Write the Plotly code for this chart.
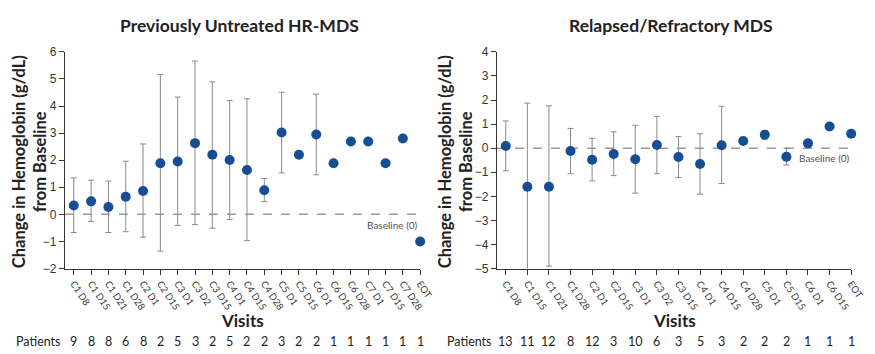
import plotly.graph_objects as go

# ---- Previously untreated HR-MDS ----
visits_a = ["C1 D8", "C1 D15", "C1 D21", "C1 D28", "C2 D1", "C2 D15", "C3 D1", "C3 D2",
            "C3 D15", "C4 D1", "C4 D15", "C4 D28", "C5 D1", "C5 D15", "C6 D1", "C6 D15",
            "C6 D28", "C7 D1", "C7 D15", "C7 D28", "EOT"]
mean_a = [0.33, 0.48, 0.27, 0.65, 0.86, 1.89, 1.95, 2.63, 2.20, 2.01, 1.64, 0.89, 3.02,
          2.20, 2.95, 1.89, 2.69, 2.69, 1.89, 2.80, -1.00]
upper_a = [1.35, 1.26, 1.23, 1.96, 2.60, 5.16, 4.33, 5.66, 4.89, 4.20, 4.27, 1.32, 4.51,
           2.32, 4.44, None, None, None, None, None, None]
lower_a = [-0.67, -0.26, -0.67, -0.64, -0.84, -1.36, -0.41, -0.38, -0.51, -0.19, -0.97, 0.47,
           1.53, 2.08, 1.46, None, None, None, None, None, None]
patients_a = [9, 8, 8, 6, 8, 2, 5, 3, 2, 5, 2, 2, 3, 2, 2, 1, 1, 1, 1, 1, 1]

# ---- Relapsed/refractory MDS ----
visits_b = ["C1 D8", "C1 D15", "C1 D21", "C1 D28", "C2 D1", "C2 D15", "C3 D1", "C3 D2",
            "C3 D15", "C4 D1", "C4 D15", "C4 D28", "C5 D1", "C5 D15", "C6 D1", "C6 D15", "EOT"]
mean_b = [0.09, -1.60, -1.60, -0.12, -0.48, -0.24, -0.46, 0.13, -0.37, -0.66, 0.12, 0.30,
          0.56, -0.36, 0.20, 0.90, 0.60]
upper_b = [1.13, 1.87, 1.76, 0.82, 0.41, 0.68, 0.95, 1.32, 0.48, 0.60, 1.74, 0.38, 0.73,
           0.00, None, None, None]
lower_b = [-0.94, -5.05, -4.90, -1.06, -1.36, -1.14, -1.87, -1.06, -1.22, -1.91, -1.47, 0.22,
           0.37, -0.70, None, None, None]
patients_b = [13, 11, 12, 8, 12, 3, 10, 6, 3, 5, 3, 2, 2, 2, 1, 1, 1]

BLUE = "#154e94"
ERR = "#8a8a8a"
TXT = "#222222"
FONT = "Lato"

W, H = 875, 354


def err(mean, hi, lo):
    plus = [0 if h is None else h - m for m, h in zip(mean, hi)]
    minus = [0 if l is None else m - l for m, l in zip(mean, lo)]
    return plus, minus


fig = go.Figure()

for mean, hi, lo, xa, ya in [(mean_a, upper_a, lower_a, "x", "y"),
                             (mean_b, upper_b, lower_b, "x2", "y2")]:
    plus, minus = err(mean, hi, lo)
    fig.add_trace(go.Scatter(
        x=list(range(len(mean))), y=mean, mode="markers", xaxis=xa, yaxis=ya,
        marker=dict(color=BLUE, size=10),
        error_y=dict(type="data", symmetric=False, array=plus, arrayminus=minus,
                     color=ERR, thickness=1, width=3),
        cliponaxis=False, showlegend=False,
    ))

dom_a = [66 / W, 427 / W]
dom_b = [505 / W, 865 / W]
ydom = [(H - 272.3) / H, (H - 46.7) / H]

axis_common = dict(showline=True, linecolor="#333333", linewidth=1, ticks="outside",
                   ticklen=5, tickcolor="#333333", showgrid=False, zeroline=False,
                   tickfont=dict(family="Liberation Sans", size=12, color="#333333"))

xcommon = dict(axis_common, tickangle=56, tickfont=dict(family=FONT, size=9.5, color="#333333"))

fig.update_layout(
    width=W, height=H, margin=dict(l=0, r=0, t=0, b=0),
    paper_bgcolor="white", plot_bgcolor="white",
    xaxis=dict(xcommon, domain=dom_a, anchor="y", range=[-0.51, len(visits_a) - 1],
               tickvals=list(range(len(visits_a))), ticktext=visits_a),
    yaxis=dict(axis_common, domain=ydom, anchor="x", range=[-2, 6], dtick=1),
    xaxis2=dict(xcommon, domain=dom_b, anchor="y2", range=[-0.41, len(visits_b) - 1],
                tickvals=list(range(len(visits_b))), ticktext=visits_b),
    yaxis2=dict(axis_common, domain=ydom, anchor="x2", range=[-5, 4], dtick=1),
)

# baseline reference lines
for xr, yr in [("x", "y"), ("x2", "y2")]:
    fig.add_shape(type="line", xref=f"{xr} domain", yref=yr, x0=0, x1=1, y0=0, y1=0,
                  line=dict(color="#9a9a9a", width=1.5, dash="dash"), layer="below")

ann = []
# panel titles and x-axis titles
for text, dom in [("Previously Untreated HR-MDS", dom_a), ("Relapsed/Refractory MDS", dom_b)]:
    ann.append(dict(text=text, xref="paper", yref="paper", x=(dom[0] + dom[1]) / 2 - 3 / W,
                    y=(H - 19) / H, showarrow=False, xanchor="center", yanchor="middle",
                    font=dict(family=FONT, size=17.5, color=TXT, weight="bold")))
    ann.append(dict(text="Visits", xref="paper", yref="paper", x=(dom[0] + dom[1]) / 2,
                    y=(H - 326) / H, showarrow=False, xanchor="center", yanchor="middle",
                    font=dict(family=FONT, size=17, color=TXT, weight="bold")))
# y-axis titles
for xpx in [30, 463]:
    ann.append(dict(text="Change in Hemoglobin (g/dL)<br>from Baseline", xref="paper",
                    yref="paper", x=xpx / W, y=(H - 161) / H, textangle=-90,
                    showarrow=False, xanchor="center", yanchor="middle",
                    font=dict(family=FONT, size=16.5, color=TXT, weight="bold")))
# baseline labels
ann.append(dict(text="Baseline (0)", xref="paper", yref="y", x=427 / W, y=-0.4,
                showarrow=False, xanchor="right", yanchor="middle",
                font=dict(family=FONT, size=10, color="#555555")))
ann.append(dict(text="Baseline (0)", xref="paper", yref="y2", x=866 / W, y=-0.42,
                showarrow=False, xanchor="right", yanchor="middle",
                font=dict(family=FONT, size=10, color="#555555")))
# patient counts
for xpx in [14, 452]:
    ann.append(dict(text="Patients", xref="paper", yref="paper", x=xpx / W, y=(H - 348) / H,
                    showarrow=False, xanchor="left", yanchor="middle",
                    font=dict(family=FONT, size=12.5, color=TXT)))
for counts, xr in [(patients_a, "x"), (patients_b, "x2")]:
    for i, c in enumerate(counts):
        ann.append(dict(text=str(c), xref=xr, yref="paper", x=i, y=(H - 348) / H,
                        showarrow=False, xanchor="center", yanchor="middle",
                        font=dict(family=FONT, size=12.5, color=TXT)))

fig.update_layout(annotations=ann)
fig.write_html("out.html")
